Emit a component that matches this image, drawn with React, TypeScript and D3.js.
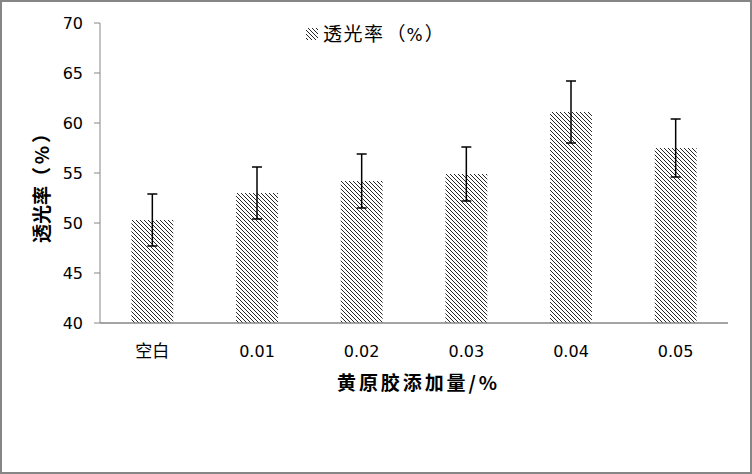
import React from "react";
import * as d3 from "d3";

const categories = ["空白", "0.01", "0.02", "0.03", "0.04", "0.05"];
const values = [50.3, 53.0, 54.2, 54.9, 61.1, 57.5];
const errors = [2.6, 2.6, 2.7, 2.7, 3.1, 2.9];
const yTicks = [40, 45, 50, 55, 60, 65, 70];
const seriesNameMain = "透光率";
const yTitleMain = "透光率";
const yTitleUnit = "（%）";
const xTitle = "黄原胶添加量/%";

const W = 752;
const H = 474;
const M = { left: 100, right: 24, top: 23, bottom: 151 };

export default function App() {
  const x = d3
    .scaleBand<string>()
    .domain(categories)
    .range([M.left, W - M.right])
    .paddingInner(0.6)
    .paddingOuter(0.3);
  const y = d3.scaleLinear().domain([40, 70]).range([H - M.bottom, M.top]);
  const bw = x.bandwidth();
  const numFont = "'DejaVu Sans', Verdana, sans-serif";
  const cjkFont = "'Noto Sans CJK SC', sans-serif";

  return (
    <svg
      width={W}
      height={H}
      style={{ position: "fixed", left: 0, top: 0, background: "#fff" }}
    >
      <defs>
        <pattern id="hatch" patternUnits="userSpaceOnUse" width={4} height={4}>
          <rect width={4} height={4} fill="#fff" />
          <path d="M-1,-1 L5,5 M3,-1 L5,1 M-1,3 L1,5" stroke="#000" strokeWidth={0.85} />
        </pattern>
      </defs>
      <rect x={1} y={1} width={W - 2} height={H - 2} fill="#fff" stroke="#868686" strokeWidth={2} />

      {/* y axis */}
      <line x1={M.left} x2={M.left} y1={y(70)} y2={y(40)} stroke="#868686" strokeWidth={1} />
      {yTicks.map((t) => (
        <g key={t}>
          <line x1={M.left - 6} x2={M.left} y1={y(t)} y2={y(t)} stroke="#868686" />
          <text
            x={M.left - 17}
            y={y(t)}
            dy="0.36em"
            textAnchor="end"
            fontFamily={numFont}
            fontSize={16}
            fill="#000"
          >
            {t}
          </text>
        </g>
      ))}

      {/* bars */}
      {categories.map((c, i) => (
        <rect
          key={c}
          x={x(c)!}
          y={y(values[i])}
          width={bw}
          height={y(40) - y(values[i])}
          fill="url(#hatch)"
        />
      ))}

      {/* x axis */}
      <line x1={M.left} x2={W - M.right} y1={y(40)} y2={y(40)} stroke="#868686" strokeWidth={1.5} />

      {/* error bars */}
      {categories.map((c, i) => {
        const cx = x(c)! + bw / 2;
        const top = y(values[i] + errors[i]);
        const bot = y(values[i] - errors[i]);
        return (
          <g key={c} stroke="#000" strokeWidth={1.5}>
            <line x1={cx} x2={cx} y1={top} y2={bot} />
            <line x1={cx - 5} x2={cx + 5} y1={top} y2={top} />
            <line x1={cx - 5} x2={cx + 5} y1={bot} y2={bot} />
          </g>
        );
      })}

      {/* x labels */}
      {categories.map((c) => (
        <text
          key={c}
          x={x(c)! + bw / 2}
          y={351}
          dy="0.36em"
          textAnchor="middle"
          fontFamily={c === "空白" ? cjkFont : numFont}
          fontSize={c === "空白" ? 17 : 16}
          fill="#000"
        >
          {c}
        </text>
      ))}

      {/* x title */}
      <text
        x={417}
        y={383}
        dy="0.36em"
        textAnchor="middle"
        fontFamily={cjkFont}
        fontWeight="bold"
        fontSize={19}
        textLength={160}
        lengthAdjust="spacing"
        fill="#000"
      >
        {xTitle}
      </text>

      {/* y title */}
      <text
        transform={`translate(42,243) rotate(-90)`}
        dy="0.36em"
        textAnchor="start"
        fontFamily={cjkFont}
        fontWeight="bold"
        fontSize={19}
        fill="#000"
      >
        <tspan>{yTitleMain}</tspan>
        <tspan textLength={62} lengthAdjust="spacing">{yTitleUnit}</tspan>
      </text>

      {/* legend */}
      <rect x={306} y={28} width={12} height={12} fill="url(#hatch)" />
      <text x={323} y={34} dy="0.36em" fontFamily={cjkFont} fontSize={19} fill="#000">
        <tspan letterSpacing={1.5}>{seriesNameMain}</tspan>
        <tspan dx={2}>（</tspan>
        <tspan fontFamily={numFont} fontSize={17} dx={1}>%</tspan>
        <tspan dx={2}>）</tspan>
      </text>
    </svg>
  );
}
